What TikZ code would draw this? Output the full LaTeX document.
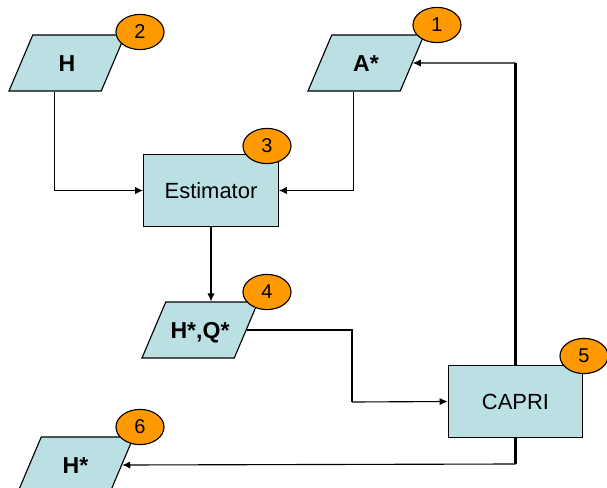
\documentclass[tikz,border=0pt]{standalone}
\usepackage{fontspec}
\setmainfont{Liberation Sans}
\usepackage{tikz}
\usetikzlibrary{arrows.meta, positioning}
\usetikzlibrary{shapes.geometric}

\definecolor{boxblue}{HTML}{BBE0E3}
\definecolor{badgeorange}{HTML}{FF9900}

\begin{document}
\begin{tikzpicture}[
		x=0.025cm, y=-0.025cm,
		every node/.style={font=\fontsize{15.6}{18}\selectfont},
		block/.style={
			rectangle,
			draw,
			line width=0.8pt,
			align=center,
			minimum width=3.36cm,
			minimum height=1.78cm,
			fill=boxblue
		},
		data/.style={
			trapezium,
			trapezium left angle=67,
			trapezium right angle=113,
			trapezium stretches body=true,
			draw,
			line width=0.8pt,
			minimum width=2.9cm,
			inner xsep=0pt,
			inner ysep=14pt,
			text height=11.8pt,
			text depth=0pt,
			fill=boxblue,
			font=\fontsize{16.4}{18}\selectfont\bfseries
		},
		badge/.style={
			ellipse,
			draw,
			line width=0.8pt,
			inner sep=0pt,
			minimum width=1.2cm,
			minimum height=0.88cm,
			fill=badgeorange,
			font=\fontsize{14.2}{16}\selectfont
		},
		arrow/.style={
			-{Latex[length=2mm,width=1.8mm]},
			line width=0.8pt
		},
		heavy/.style={
			line width=2pt
		}
		]
		
		\clip (0,0) rectangle (607,488);
		
		% Nodes
		\node[data] (H) at (67,63) {H};
		\node[data] (Astar) at (366,63) {A*};
		\node[block] (est) at (211,190.5) {Estimator};
		\node[data] (HQ) at (200,330) {H*,Q*};
		\node[block] (capri) at (515.5,401.5) {CAPRI};
		\node[data] (Hout) at (75.5,465) {H*};
		
		% Numbers
		\node[badge] (n1) at (437,25) {1};
		\node[badge] (n2) at (140,32) {2};
		\node[badge] (n3) at (267,146) {3};
		\node[badge] (n4) at (267,292) {4};
		\node[badge] (n5) at (584,356) {5};
		\node[badge] (n6) at (140,427) {6};
		
		% Turning points
		\coordinate (toHQ) at (352,402);
		\coordinate (upA) at (514,63);
		\coordinate (downH) at (514,464);
		
		% Arrows
		\draw[arrow] (H.bottom side) |- (est.west);
		\draw[arrow] (Astar.bottom side) |- (est.east);
		\draw[arrow] (est.south) -- (est.south |- HQ.top side);
		
		\draw[heavy] (HQ.east) -| (toHQ);
		\draw[arrow] (toHQ) -- (capri.west);
		
		% Back to A* and out to H*
		\draw[heavy] (capri.north) -- (capri.north |- upA);
		\draw[arrow] (capri.north |- upA) -- (Astar.east);
		\draw[heavy] (capri.south) -- (capri.south |- downH);
		\draw[arrow] (capri.south |- downH) -- (Hout.east);
		
	\end{tikzpicture}
\end{document}
